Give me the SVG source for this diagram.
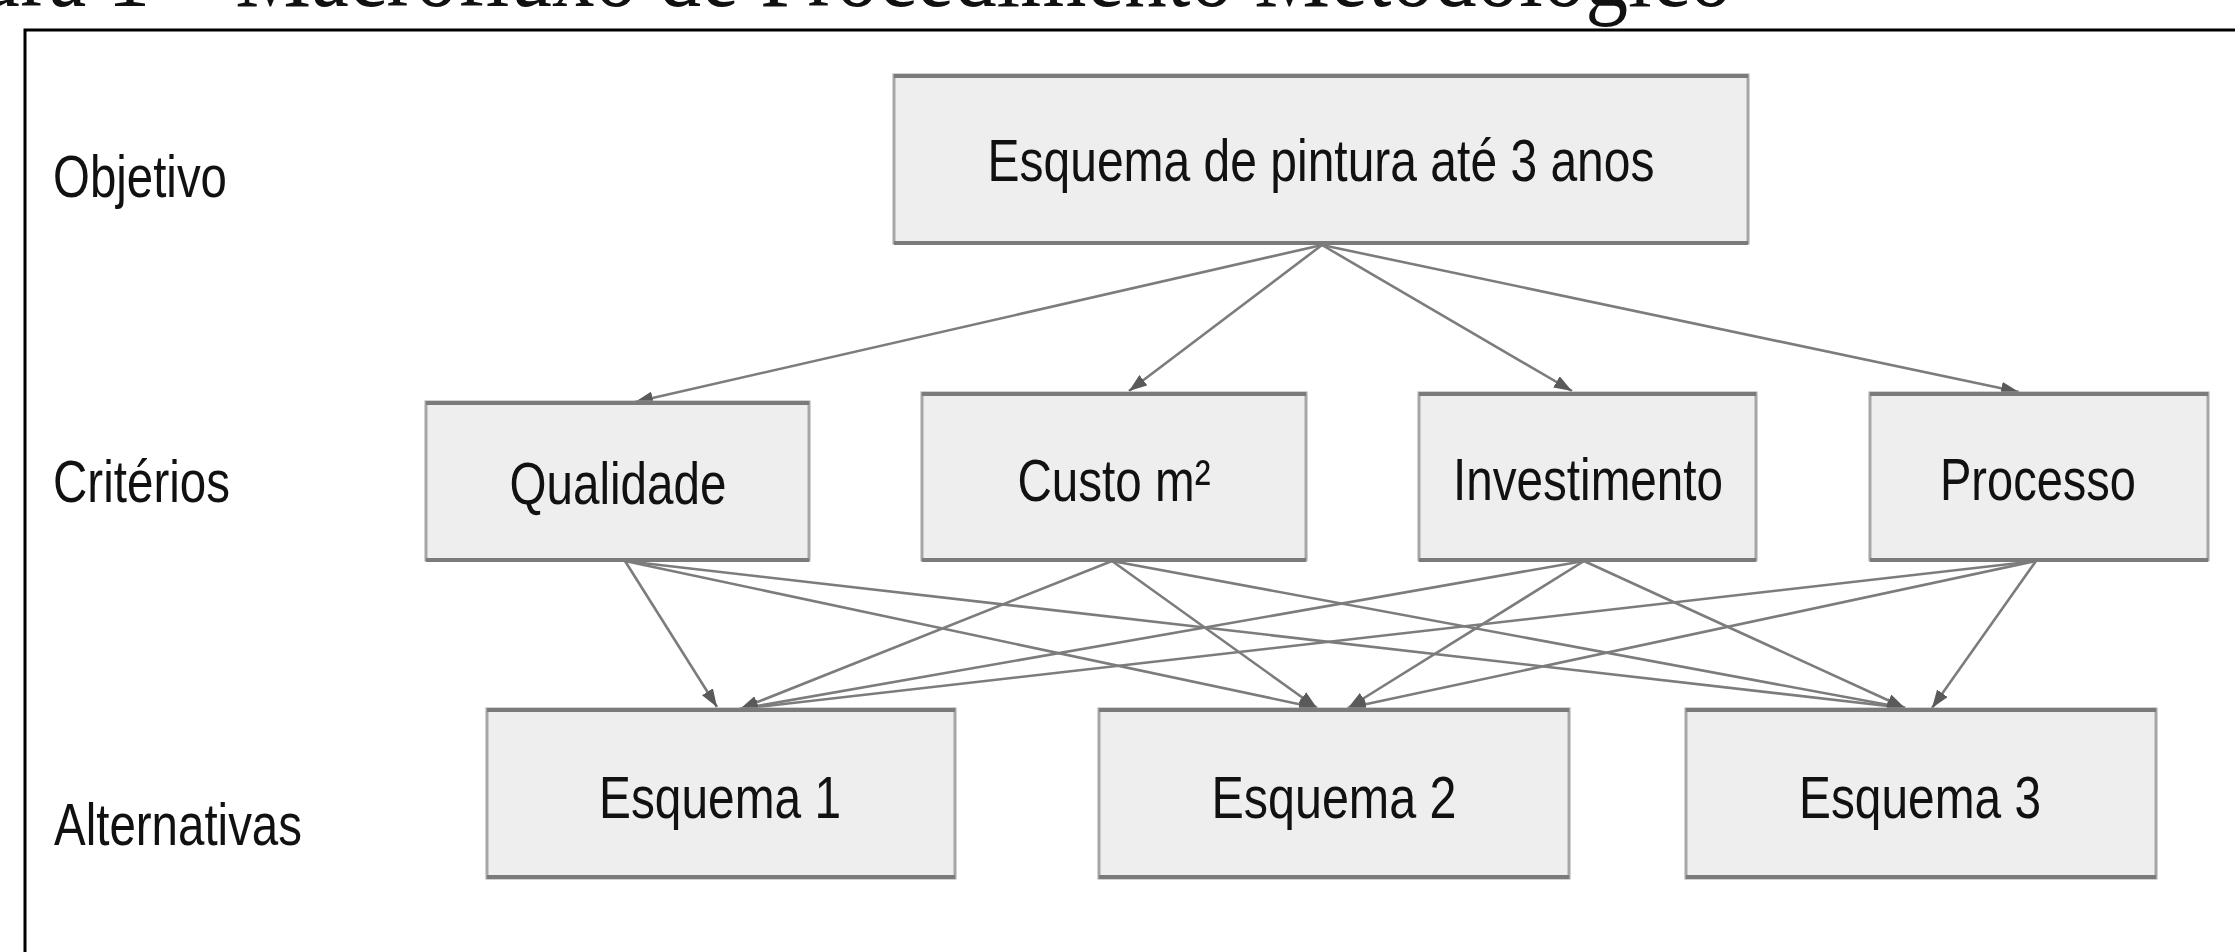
<svg xmlns="http://www.w3.org/2000/svg" width="2235" height="952" viewBox="0 0 2235 952">
<style>
.lbl{font-family:"Liberation Sans",Arial,sans-serif;font-size:60px;fill:#111;}
.box{fill:#eeeeee;stroke:#a6a6a6;stroke-width:3;}
.edge{stroke:#7b7b7b;stroke-width:4;fill:none;}
.con{stroke:#7c7c7c;stroke-width:2.6;fill:none;marker-end:url(#ah);}
.title{font-family:"Liberation Serif","Times New Roman",serif;font-size:100px;fill:#111;}
</style>
<defs>
<marker id="ah" markerUnits="userSpaceOnUse" markerWidth="18" markerHeight="13" refX="18" refY="6.5" orient="auto">
<path d="M0,0 L18,6.5 L0,13 z" fill="#5a5a5a"/>
</marker>
</defs>
<rect width="2235" height="952" fill="#ffffff"/>
<text class="title" x="1732" y="6" text-anchor="end" textLength="1868" lengthAdjust="spacingAndGlyphs">Figura 1 – Macrofluxo de Procedimento Metodológico</text>
<rect x="25" y="30" width="2300" height="1000" fill="none" stroke="#000" stroke-width="3"/>
<g id="level-labels">
<text class="lbl" x="53" y="197" textLength="174" lengthAdjust="spacingAndGlyphs">Objetivo</text>
<text class="lbl" x="53" y="502" textLength="177" lengthAdjust="spacingAndGlyphs">Critérios</text>
<text class="lbl" x="54" y="845" textLength="248" lengthAdjust="spacingAndGlyphs">Alternativas</text>
</g>
<g id="connectors">
<line class="con" x1="1322" y1="245" x2="635" y2="402"/>
<line class="con" x1="1322" y1="245" x2="1129" y2="391"/>
<line class="con" x1="1322" y1="245" x2="1572" y2="391"/>
<line class="con" x1="1322" y1="245" x2="2019" y2="392"/>
<line class="con" x1="625" y1="561" x2="717" y2="707"/>
<line class="con" x1="625" y1="561" x2="1317" y2="708"/>
<line class="con" x1="625" y1="561" x2="1905" y2="708"/>
<line class="con" x1="1112" y1="561" x2="740" y2="709"/>
<line class="con" x1="1112" y1="561" x2="1317" y2="708"/>
<line class="con" x1="1112" y1="561" x2="1905" y2="708"/>
<line class="con" x1="1584" y1="561" x2="740" y2="709"/>
<line class="con" x1="1584" y1="561" x2="1348" y2="708"/>
<line class="con" x1="1584" y1="561" x2="1905" y2="708"/>
<line class="con" x1="2036" y1="561" x2="740" y2="709"/>
<line class="con" x1="2036" y1="561" x2="1348" y2="708"/>
<line class="con" x1="2036" y1="561" x2="1932" y2="708"/>
</g>
<g id="objetivo">
<rect class="box" x="894" y="75" width="854" height="168"/>
<path class="edge" d="M894,76 H1748 M894,243 H1748"/>
<text class="lbl" x="1321" y="181" text-anchor="middle" textLength="667" lengthAdjust="spacingAndGlyphs">Esquema de pintura até 3 anos</text>
</g>
<g id="qualidade">
<rect class="box" x="426" y="402" width="383" height="158"/>
<path class="edge" d="M426,403 H809 M426,560 H809"/>
<text class="lbl" x="618" y="504" text-anchor="middle" textLength="217" lengthAdjust="spacingAndGlyphs">Qualidade</text>
</g>
<g id="custo">
<rect class="box" x="922" y="393" width="384" height="167"/>
<path class="edge" d="M922,394 H1306 M922,560 H1306"/>
<text class="lbl" x="1114" y="501" text-anchor="middle" textLength="193" lengthAdjust="spacingAndGlyphs">Custo m²</text>
</g>
<g id="investimento">
<rect class="box" x="1419" y="393" width="337" height="167"/>
<path class="edge" d="M1419,394 H1756 M1419,560 H1756"/>
<text class="lbl" x="1588" y="500" text-anchor="middle" textLength="270" lengthAdjust="spacingAndGlyphs">Investimento</text>
</g>
<g id="processo">
<rect class="box" x="1870" y="393" width="338" height="167"/>
<path class="edge" d="M1870,394 H2208 M1870,560 H2208"/>
<text class="lbl" x="2038" y="500" text-anchor="middle" textLength="196" lengthAdjust="spacingAndGlyphs">Processo</text>
</g>
<g id="esquema1">
<rect class="box" x="487" y="709" width="468" height="169"/>
<path class="edge" d="M487,710 H955 M487,877 H955"/>
<text class="lbl" x="720" y="818" text-anchor="middle" textLength="242" lengthAdjust="spacingAndGlyphs">Esquema 1</text>
</g>
<g id="esquema2">
<rect class="box" x="1099" y="709" width="470" height="169"/>
<path class="edge" d="M1099,710 H1569 M1099,877 H1569"/>
<text class="lbl" x="1334" y="818" text-anchor="middle" textLength="245" lengthAdjust="spacingAndGlyphs">Esquema 2</text>
</g>
<g id="esquema3">
<rect class="box" x="1686" y="709" width="470" height="169"/>
<path class="edge" d="M1686,710 H2156 M1686,877 H2156"/>
<text class="lbl" x="1920" y="818" text-anchor="middle" textLength="242" lengthAdjust="spacingAndGlyphs">Esquema 3</text>
</g>
</svg>
